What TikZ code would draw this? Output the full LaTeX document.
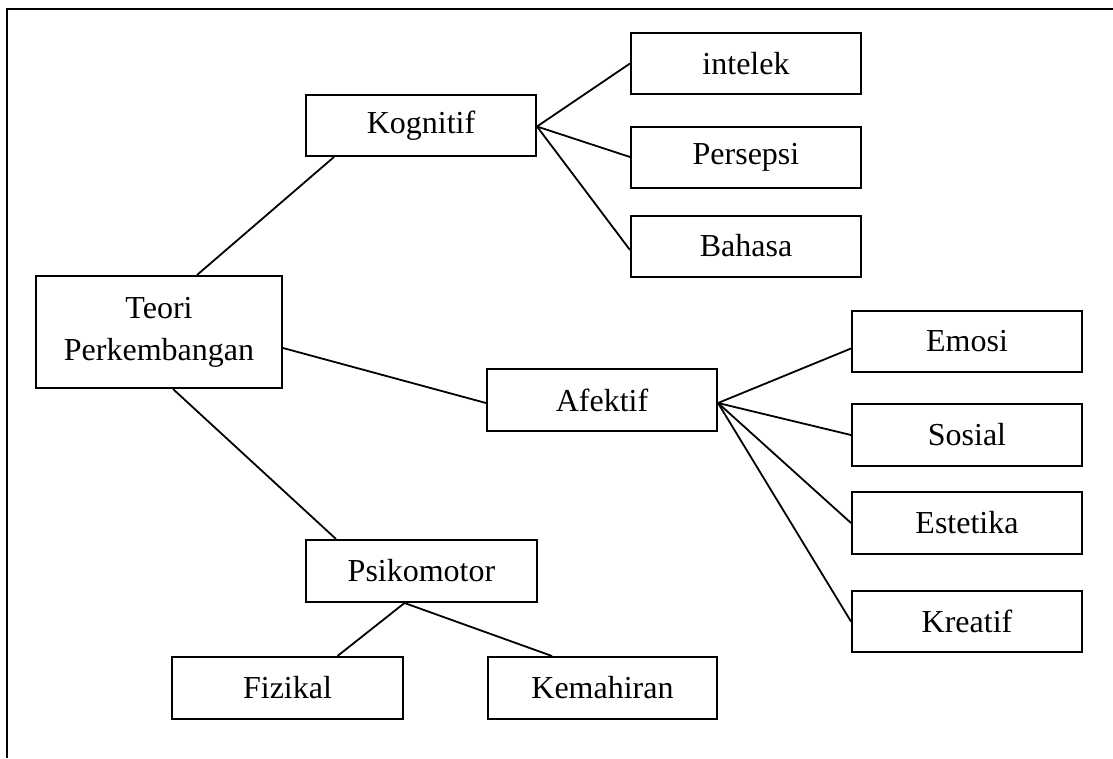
\documentclass[tikz,border=0pt]{standalone}
\usepackage{fontspec}
\setmainfont{Liberation Serif}
\begin{document}
\begin{tikzpicture}[x=1pt,y=-1pt,
  box/.style={draw,line width=2pt,inner sep=0pt,minimum width=230pt,minimum height=61pt,font=\fontsize{32}{42}\selectfont,align=center},
  link/.style={line width=1.8pt}]
\useasboundingbox (0,0) rectangle (1113,758);
\draw[line width=2.2pt] (7,758) -- (7,9) -- (1113,9);
\node[box] (kog) at (421,125.5) {Kognitif};
\node[box] (int) at (746,63.5) {intelek};
\node[box] (per) at (746,157) {Persepsi};
\node[box] (bah) at (746,246) {Bahasa};
\node[box,minimum width=246pt,minimum height=112pt] (teori) at (159,332) {Teori\\Perkembangan};
\node[box,minimum height=62pt] (afe) at (602,400) {Afektif};
\node[box] (emo) at (967,341.5) {Emosi};
\node[box,minimum height=62pt] (sos) at (967,435) {Sosial};
\node[box,minimum height=62pt] (est) at (967,523) {Estetika};
\node[box] (kre) at (967,621.5) {Kreatif};
\node[box,minimum width=231pt,minimum height=62pt] (psi) at (421.5,571) {Psikomotor};
\node[box,minimum width=231pt,minimum height=62pt] (fiz) at (287.5,688) {Fizikal};
\node[box,minimum width=229pt,minimum height=62pt] (kem) at (602.5,688) {Kemahiran};
\draw[link] ([xshift=38pt]teori.north) -- ([xshift=29pt]kog.south west);
\draw[link] ([yshift=-16pt]teori.east) -- ([yshift=-3pt]afe.west);
\draw[link] ([xshift=14pt]teori.south) -- ([xshift=31pt]psi.north west);
\draw[link] ([yshift=-1pt]kog.east) -- (int.west);
\draw[link] ([yshift=-1pt]kog.east) -- (per.west);
\draw[link] ([yshift=-1pt]kog.east) -- ([yshift=-4pt]bah.west);
\draw[link] ([yshift=-3pt]afe.east) -- ([yshift=-7pt]emo.west);
\draw[link] ([yshift=-3pt]afe.east) -- (sos.west);
\draw[link] ([yshift=-3pt]afe.east) -- (est.west);
\draw[link] ([yshift=-3pt]afe.east) -- (kre.west);
\draw[link] ([xshift=-17pt]psi.south) -- ([xshift=50pt]fiz.north);
\draw[link] ([xshift=-17pt]psi.south) -- ([xshift=65pt]kem.north west);
\end{tikzpicture}
\end{document}
